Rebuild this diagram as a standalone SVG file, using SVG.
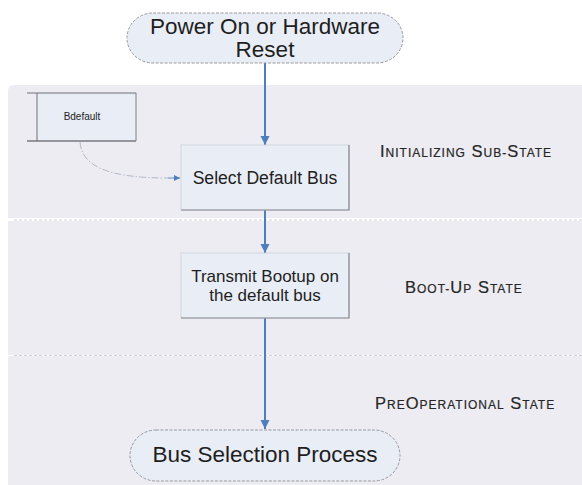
<svg xmlns="http://www.w3.org/2000/svg" width="582" height="485" viewBox="0 0 582 485">
<style>
.band{fill:#EDECF2;}
.sep{stroke:#C9C8D2;stroke-width:0.8;stroke-dasharray:3 2;fill:none;}
.box{fill:#E9EDF5;stroke:#CDD1D9;stroke-width:0.8;}
.shadow{stroke:#85888E;stroke-width:1.2;fill:none;}
.term{fill:#E9EDF5;stroke:#8E9096;stroke-width:0.9;stroke-dasharray:3 1.5;}
.t{font-family:"Liberation Sans",Arial,sans-serif;fill:#1E1E1E;text-anchor:middle;}
.lbl{font-family:"Liberation Sans",Arial,sans-serif;fill:#262626;stroke:#262626;stroke-width:0.2;font-size:16.5px;letter-spacing:1px;}
.sm{font-size:12px;}
.flow{stroke:#4F7EBD;stroke-width:2;fill:none;}
</style>
<defs>
<marker id="ah" viewBox="0 0 10 10" refX="10" refY="5" markerWidth="9" markerHeight="11" markerUnits="userSpaceOnUse" orient="auto">
<path d="M0,0 L10,5 L0,10 Z" fill="#4F7EBD"/>
</marker>
<marker id="ah2" viewBox="0 0 10 10" refX="10" refY="5" markerWidth="10" markerHeight="6" markerUnits="userSpaceOnUse" orient="auto">
<path d="M0,0 L10,5 L0,10 Z" fill="#4F7EBD"/>
</marker>
</defs>
<rect width="582" height="485" fill="#FFFFFF"/>
<g id="bands">
<path class="band" d="M14,85 H582 V218 H8 V91 Q8,85 14,85 Z"/>
<rect class="band" x="8" y="221" width="574" height="134"/>
<rect class="band" x="8" y="356" width="574" height="129"/>
<line class="sep" x1="14" y1="220" x2="582" y2="220"/>
<line class="sep" x1="14" y1="355.5" x2="582" y2="355.5"/>
</g>
<g id="labels">
<text class="lbl" x="380" y="157">I<tspan class="sm">NITIALIZING</tspan> S<tspan class="sm">UB-</tspan>S<tspan class="sm">TATE</tspan></text>
<text class="lbl" x="405" y="293">B<tspan class="sm">OOT-</tspan>U<tspan class="sm">P</tspan> S<tspan class="sm">TATE</tspan></text>
<text class="lbl" x="375" y="409">P<tspan class="sm">RE</tspan>O<tspan class="sm">PERATIONAL</tspan> S<tspan class="sm">TATE</tspan></text>
</g>
<g id="connectors">
<line class="flow" x1="265" y1="63" x2="265" y2="145" marker-end="url(#ah)"/>
<line class="flow" x1="265" y1="210" x2="265" y2="253" marker-end="url(#ah)"/>
<line class="flow" x1="265" y1="318" x2="265" y2="429" marker-end="url(#ah)"/>
<path d="M80,142 C82,168 112,178 168,178" stroke="#A3AABA" stroke-width="0.8" fill="none" stroke-dasharray="7 2 1.5 2"/>
<line x1="168" y1="178" x2="180" y2="178" stroke="#4F7EBD" stroke-width="0.9" marker-end="url(#ah2)"/>
</g>
<g id="power-on">
<rect class="term" x="127" y="13" width="276" height="50" rx="26" ry="25"/>
<text class="t" x="265" y="34" font-size="22.5">Power On or Hardware</text>
<text class="t" x="265" y="57" font-size="22.5">Reset</text>
</g>
<g id="bdefault">
<rect x="37" y="93" width="99" height="48" fill="#E9EDF5"/>
<line x1="27" y1="93" x2="136" y2="93" stroke="#6E7076" stroke-width="1"/>
<line x1="27" y1="141" x2="136" y2="141" stroke="#3E4046" stroke-width="1"/>
<line x1="37" y1="93" x2="37" y2="141" stroke="#6E7076" stroke-width="1"/>
<line x1="136" y1="93" x2="136" y2="141" stroke="#7E8086" stroke-width="1"/>
<text class="t" x="82" y="120" font-size="10" fill="#444">Bdefault</text>
</g>
<g id="select-default-bus">
<rect class="box" x="181" y="145" width="168" height="65"/>
<polyline class="shadow" points="349,145 349,210 181,210"/>
<text class="t" x="265" y="184" font-size="17.6">Select Default Bus</text>
</g>
<g id="transmit-bootup">
<rect class="box" x="181" y="253" width="168" height="65"/>
<polyline class="shadow" points="349,253 349,318 181,318"/>
<text class="t" x="265" y="281.5" font-size="17">Transmit Bootup on</text>
<text class="t" x="265" y="300.5" font-size="17">the default bus</text>
</g>
<g id="bus-selection">
<rect class="term" x="130" y="430" width="270" height="51" rx="26" ry="25.5"/>
<text class="t" x="265" y="462" font-size="22.5">Bus Selection Process</text>
</g>
</svg>
